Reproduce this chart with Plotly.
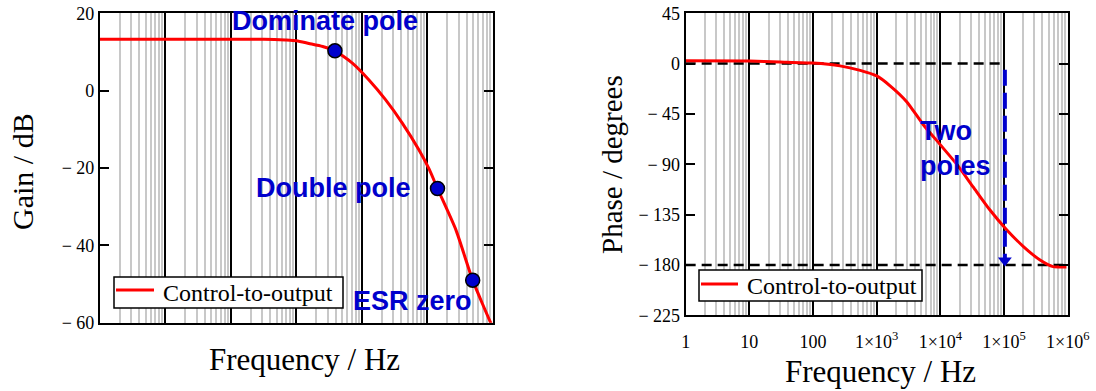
import numpy as np
import plotly.graph_objects as go

# ---------------- data ----------------
gain_freq = [1, 10, 100, 316, 679, 1000, 1549, 2512, 3864, 7129, 12794, 23014,
             41495, 74645, 106170, 142230, 271640, 489780, 933250, 1000000]
gain_db = [13.3, 13.3, 13.3, 13.3, 13.1, 12.9, 12.2, 11.4, 10.3, 7.1, 2.75, -2.4,
           -8.45, -15.4, -20.3, -25.3, -36.0, -49.0, -60.2, -61.2]

point_freq = [3864, 142230, 489780]
point_gain = [10.3, -25.3, -49.0]
point_labels = ["Dominate pole", "Double pole", "ESR zero"]

phase_freq = [1, 10, 30, 100, 265, 550, 1000, 1622, 2958, 5395, 9863, 18030,
              32890, 60120, 109650, 199530, 367280, 588840, 954990]
phase_deg = [2.5, 2.3, 1.5, 0.5, -2.0, -6.0, -11.0, -19.8, -34.0, -54.6, -72.2,
             -89.9, -110.4, -130.9, -148.5, -163.3, -175.6, -181.5, -181.8]

ref_zero_freq = [1, 100000]
ref_zero_deg = [0, 0]
ref_low_freq = [1, 850000]
ref_low_deg = [-180, -180]
arrow_freq = [103000, 103000]
arrow_deg = [-5.5, -176]

series_name = "Control-to-output"
decade_ticks = [1, 10, 100, 1e3, 1e4, 1e5, 1e6]
decade_text = ["1", "10", "100", "1×10<sup>3</sup>", "1×10<sup>4</sup>",
               "1×10<sup>5</sup>", "1×10<sup>6</sup>"]
gain_ticks = [-60, -40, -20, 0, 20]
gain_text = ["− 60", "− 40", "− 20", "0", "20"]
phase_ticks = [-225, -180, -135, -90, -45, 0, 45]
phase_text = ["− 225", "− 180", "− 135", "− 90", "− 45", "0", "45"]

# ---------------- styling ----------------
RED = "#FF0000"
BLUE = "#0000CC"
SERIF = "Liberation Serif"
SANS = "Liberation Sans"
W, H = 1096, 391


def px(x):
    return x / W


def py(y):
    return 1 - y / H


fig = go.Figure()

# Gain plot
fig.add_trace(go.Scatter(x=gain_freq, y=gain_db, mode="lines", name=series_name,
                         line=dict(color=RED, width=3, shape="spline", smoothing=0.6),
                         xaxis="x", yaxis="y", showlegend=False))
fig.add_trace(go.Scatter(x=point_freq, y=point_gain, mode="markers", showlegend=False,
                         marker=dict(color=BLUE, size=14, line=dict(color="black", width=1.5)),
                         xaxis="x", yaxis="y"))

# Phase plot
fig.add_trace(go.Scatter(x=ref_zero_freq, y=ref_zero_deg, mode="lines", showlegend=False,
                         line=dict(color="black", width=2.5, dash="10px,6px"),
                         xaxis="x2", yaxis="y2"))
fig.add_trace(go.Scatter(x=ref_low_freq, y=ref_low_deg, mode="lines", showlegend=False,
                         line=dict(color="black", width=2.5, dash="10px,6px"),
                         xaxis="x2", yaxis="y2"))
fig.add_trace(go.Scatter(x=phase_freq, y=phase_deg, mode="lines", name=series_name,
                         line=dict(color=RED, width=3, shape="spline", smoothing=0.6),
                         xaxis="x2", yaxis="y2", showlegend=False))
fig.add_trace(go.Scatter(x=arrow_freq, y=arrow_deg, mode="lines", showlegend=False,
                         line=dict(color=BLUE, width=4, dash="16px,7px"),
                         xaxis="x2", yaxis="y2"))
fig.add_trace(go.Scatter(x=arrow_freq[-1:], y=arrow_deg[-1:], mode="markers", showlegend=False,
                         marker=dict(color=BLUE, size=12, symbol="triangle-down"),
                         xaxis="x2", yaxis="y2"))

common_x = dict(type="log", range=[0, 6], tickmode="array", tickvals=decade_ticks,
                showgrid=True, gridcolor="black", gridwidth=1.5,
                minor=dict(dtick="D1", showgrid=True, gridcolor="#c8c8c8", gridwidth=1.5,
                           ticks=""),
                showline=True, mirror=True, linecolor="black", linewidth=2,
                ticks="", zeroline=False, automargin=False)
common_y = dict(tickmode="array", showgrid=False, zeroline=False,
                showline=True, mirror="ticks", linecolor="black", linewidth=2,
                ticks="inside", ticklen=9, tickwidth=2, tickcolor="black",
                automargin=False,
                tickfont=dict(family=SERIF, size=18, color="black"))

annotations = [
    dict(text="<b>Dominate pole</b>", x=np.log10(2690), y=18, xref="x", yref="y"),
    dict(text="<b>Double pole</b>", x=np.log10(3715), y=-25.2, xref="x", yref="y"),
    dict(text="<b>ESR zero</b>", x=np.log10(58900), y=-54.5, xref="x", yref="y"),
    dict(text="<b>Two<br>poles</b>", x=np.log10(4456), y=-76, xref="x2", yref="y2",
         xanchor="left", align="left"),
]
for a in annotations:
    a.update(showarrow=False, font=dict(family=SANS, size=27, color=BLUE))
    a.setdefault("xanchor", "center")
    a.setdefault("yanchor", "middle")

titles = [
    dict(text="Gain / dB", x=px(22), y=py(172), textangle=-90, size=30),
    dict(text="Frequency / Hz", x=px(304), y=py(359), textangle=0, size=31),
    dict(text="Phase / degrees", x=px(612), y=py(165), textangle=-90, size=29),
    dict(text="Frequency / Hz", x=px(880), y=py(371), textangle=0, size=31),
]
for t in titles:
    size = t.pop("size")
    t.update(xref="paper", yref="paper", showarrow=False, xanchor="center",
             yanchor="middle", font=dict(family=SERIF, size=size, color="black"))

# legend boxes (one per panel), drawn as a box + key line + text
legend_boxes = [
    dict(x0=114, x1=343, y0=277, y1=308, lx0=116, lx1=154, ly=290, tx=161),
    dict(x0=699, x1=922, y0=270, y1=301, lx0=701, lx1=738, ly=284, tx=745),
]
shapes = []
for b in legend_boxes:
    shapes.append(dict(type="rect", xref="paper", yref="paper",
                       x0=px(b["x0"]), x1=px(b["x1"]), y0=py(b["y1"]), y1=py(b["y0"]),
                       fillcolor="white", line=dict(color="black", width=1.5),
                       layer="above"))
    shapes.append(dict(type="line", xref="paper", yref="paper",
                       x0=px(b["lx0"]), x1=px(b["lx1"]), y0=py(b["ly"]), y1=py(b["ly"]),
                       line=dict(color=RED, width=3), layer="above"))
    annotations.append(dict(text=series_name, xref="paper", yref="paper",
                            x=px(b["tx"]), y=py((b["y0"] + b["y1"]) / 2 + 0.5),
                            xanchor="left", yanchor="middle", showarrow=False,
                            font=dict(family=SERIF, size=24, color="black")))

fig.update_layout(
    width=W, height=H,
    margin=dict(l=0, r=0, t=0, b=0, pad=0, autoexpand=False),
    paper_bgcolor="white", plot_bgcolor="white",
    xaxis=dict(domain=[0.0912, 0.4498], showticklabels=False, anchor="y", **common_x),
    yaxis=dict(domain=[0.1747, 0.966], range=[-60, 20], tickvals=gain_ticks,
               ticktext=gain_text, anchor="x", **common_y),
    xaxis2=dict(domain=[0.6256, 0.9742], ticktext=decade_text, anchor="y2",
                ticklabelstandoff=9,
                tickfont=dict(family=SERIF, size=18, color="black"), **common_x),
    yaxis2=dict(domain=[0.1936, 0.966], range=[-225, 45], tickvals=phase_ticks,
                ticktext=phase_text, anchor="x2", **common_y),
    annotations=annotations + titles,
    shapes=shapes,
    showlegend=False,
)

fig.write_html("out.html")
